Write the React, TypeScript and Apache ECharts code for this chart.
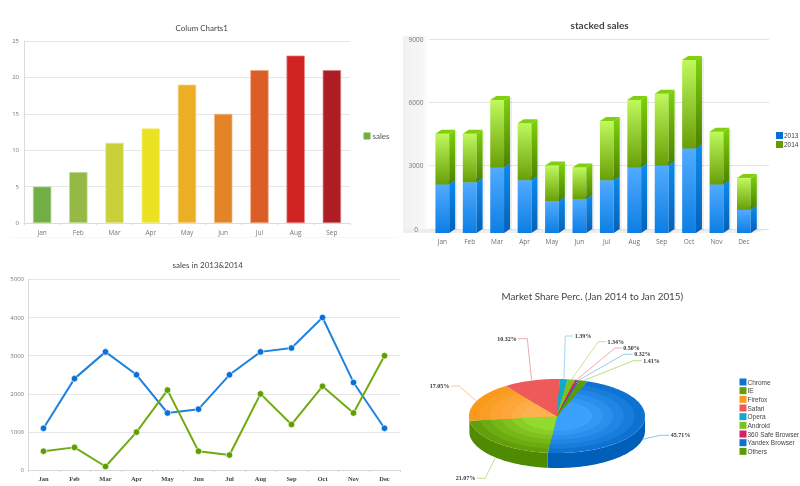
import React, { useEffect, useRef } from "react";
import * as echarts from "echarts";

const months = ["Jan", "Feb", "Mar", "Apr", "May", "Jun", "Jul", "Aug", "Sep", "Oct", "Nov", "Dec"];

// Chart 1
const salesMonths = months.slice(0, 9);
const salesValues = [5, 7, 11, 13, 19, 15, 21, 23, 21];
const salesColors = ["#71ae45", "#95b945", "#c8d139", "#ebe224", "#ecae24", "#e38427", "#dc5e27", "#d02422", "#ae1d23"];

// Chart 2
const stacked2013 = [2300, 2400, 3100, 2500, 1500, 1600, 2500, 3100, 3200, 4000, 2300, 1100];
const stacked2014 = [2400, 2300, 3200, 2700, 1700, 1500, 2800, 3200, 3400, 4200, 2500, 1500];

// Chart 3
const line2013 = [1100, 2400, 3100, 2500, 1500, 1600, 2500, 3100, 3200, 4000, 2300, 1100];
const line2014 = [500, 600, 100, 1000, 2100, 500, 400, 2000, 1200, 2200, 1500, 3000];

// Chart 4
const browsers = ["Chrome", "IE", "Firefox", "Safari", "Opera", "Android", "360 Safe Browser", "Yandex Browser", "Others"];
const shares = [45.71, 21.07, 17.05, 10.32, 1.39, 1.34, 0.5, 0.32, 1.41];
const sliceEdge = ["#0e72d2", "#639f0a", "#fa9a1c", "#ee5a5a", "#14a9c9", "#7cc11e", "#d91f66", "#0f6fcf", "#5e9a06"];
const sliceCore = ["#3aa2fc", "#92da2e", "#ffb050", "#ee5a5a", "#14a9c9", "#7cc11e", "#d91f66", "#0f6fcf", "#5e9a06"];
const sliceSide = ["#005fb8", "#4f8a00", "#e08a15", "#c94848", "#0e89a3", "#63a010", "#b01650", "#0b5aa8", "#4a7f02"];
const leaderColors = ["#8ec4ee", "#bfe08f", "#fbc98a", "#f2a9a9", "#a5d4f5", "#c6e59a", "#f2aaaa", "#9cc9ef", "#b9de85"];
// Leader layout, relative to the pie centre: elbow dx, elbow dy, run after the elbow.
const leaderLayout = [
  [103, 19.3, 9.3], [-72, 62.3, -8.3], [-97.7, -30, -8.6], [-29.7, -77.3, -9],
  [8.3, -80, 8], [41.3, -74.3, 7.7], [58, -68, 6.7], [67, -61.7, 8.7], [76.3, -55.3, 8.4],
];

const PIE = { cx: 557, cy: 416, rx: 88, ry: 37, depth: 15, start: 20 };
const BAR = { width: 13.8, dx: 6, dy: 4 };
const shareTotal = shares.reduce((a, b) => a + b, 0);

const pt = (deg: number, k = 1, drop = 0) => {
  const r = (deg * Math.PI) / 180;
  return [PIE.cx + PIE.rx * k * Math.sin(r), PIE.cy - PIE.ry * k * Math.cos(r) + drop];
};
const arc = (a0: number, a1: number, k = 1, drop = 0) => {
  const n = Math.max(2, Math.ceil(Math.abs(a1 - a0) / 2));
  const out: number[][] = [];
  for (let i = 0; i <= n; i++) out.push(pt(a0 + ((a1 - a0) * i) / n, k, drop));
  return out;
};
const mix = (a: string, b: string, t: number) => {
  const p = (c: string, i: number) => parseInt(c.slice(i, i + 2), 16);
  const ch = (i: number) => Math.round(p(a, i) + (p(b, i) - p(a, i)) * t).toString(16).padStart(2, "0");
  return "#" + ch(1) + ch(3) + ch(5);
};
const grad = (c0: string, c1: string) =>
  new echarts.graphic.LinearGradient(0, 0, 0, 1, [
    { offset: 0, color: c0 },
    { offset: 1, color: c1 },
  ]);

const bar3d = (front: [string, string], side: [string, string], top: string) => (params: any, api: any) => {
  const lo = api.coord([api.value(0), api.value(1)]);
  const hi = api.coord([api.value(0), api.value(2)]);
  const x0 = lo[0] - BAR.width / 2;
  const x1 = x0 + BAR.width;
  const yb = lo[1] + BAR.dy;
  const yt = hi[1] + BAR.dy;
  const { dx, dy } = BAR;
  return {
    type: "group",
    children: [
      {
        type: "polygon",
        shape: { points: [[x1 + dx, yt - dy + 1], [x1 + dx + 2, yt - dy + 2], [x1 + dx + 2, yb - dy + 1], [x1 + dx, yb - dy + 2]] },
        style: { fill: "rgba(0,0,0,0.07)" },
      },
      { type: "rect", shape: { x: x0, y: yt, width: BAR.width, height: yb - yt }, style: { fill: grad(front[0], front[1]) } },
      {
        type: "polygon",
        shape: { points: [[x1, yt], [x1 + dx, yt - dy], [x1 + dx, yb - dy], [x1, yb]] },
        style: { fill: grad(side[0], side[1]) },
      },
      {
        type: "polygon",
        shape: { points: [[x0, yt], [x0 + dx, yt - dy], [x1 + dx, yt - dy], [x1, yt]] },
        style: { fill: top },
      },
    ],
  };
};

let cumulative = PIE.start;
const sliceAngles = shares.map((s) => {
  const a0 = cumulative;
  cumulative += (s / shareTotal) * 360;
  return [a0, cumulative];
});

const pieSlice = (i: number) => () => {
  const [a0, a1] = sliceAngles[i];
  const children: any[] = [];
  const s0 = Math.max(a0, 90);
  const s1 = Math.min(a1, 270);
  if (s1 > s0) {
    children.push({
      type: "polygon",
      shape: { points: [...arc(s0, s1), ...arc(s1, s0, 1, PIE.depth)] },
      style: { fill: sliceSide[i] },
    });
  }
  const bands = [1, 0.88, 0.76, 0.64, 0.52, 0.4];
  bands.forEach((k, b) => {
    children.push({
      type: "polygon",
      shape: { points: [[PIE.cx, PIE.cy], ...arc(a0, a1, k)] },
      style: { fill: mix(sliceEdge[i], sliceCore[i], b / (bands.length - 1)) },
    });
  });
  const mid = (a0 + a1) / 2;
  const low = Math.cos((mid * Math.PI) / 180) < 0;
  const from = pt(mid, 1, low ? PIE.depth : 0);
  const [ex, ey, run] = leaderLayout[i];
  const elbow = [PIE.cx + ex, PIE.cy + ey];
  const end = [elbow[0] + run, elbow[1]];
  children.push({
    type: "polyline",
    shape: { points: [from, elbow, end] },
    style: { stroke: leaderColors[i], lineWidth: 1, fill: "none" },
  });
  children.push({
    type: "text",
    style: {
      text: shares[i].toFixed(2) + "%",
      x: end[0] + (run > 0 ? 1.5 : -1.5),
      y: end[1],
      align: run > 0 ? "left" : "right",
      verticalAlign: "middle",
      fill: "#333",
      fontSize: 6,
      fontWeight: "bold",
      fontFamily: "Liberation Serif",
    },
  });
  return { type: "group", children };
};

const labelFont = { fontSize: 6.5, fontFamily: "Open Sans", color: "#777" };
const yLabelFont = { fontSize: 6, fontFamily: "Open Sans", color: "#777" };
const plain = (v: number) => String(v);
const titleOf = (text: string, left: number, top: number, fontSize: number, fontWeight = "normal") => ({
  text,
  left,
  top,
  padding: 0,
  textStyle: { fontSize, fontWeight, fontFamily: "Lato", color: "#444" },
});

function buildOption() {
  const line = (c: string) => ({ lineStyle: { color: c, width: 1 } });
  return {
    animation: false,
    backgroundColor: "#fff",
    title: [
      titleOf("Colum Charts1", 175.5, 24, 8),
      titleOf("stacked sales", 570.5, 19.5, 10, "bold"),
      titleOf("sales in 2013&2014", 172.5, 261, 8),
      titleOf("Market Share Perc. (Jan 2014 to Jan 2015)", 501.5, 290.5, 9.8),
    ],
    graphic: [
      {
        type: "rect",
        shape: { x: 403, y: 36, width: 26, height: 193 },
        style: {
          fill: new echarts.graphic.LinearGradient(0, 0, 1, 0, [
            { offset: 0, color: "#f1f1f1" },
            { offset: 0.75, color: "#f6f6f6" },
            { offset: 1, color: "#ffffff" },
          ]),
        },
      },
      { type: "polygon", shape: { points: [[403, 229], [769, 229], [755, 233], [403, 233]] }, style: { fill: "#eeeeee" } },
      { type: "line", shape: { x1: 11, y1: 237.5, x2: 397, y2: 237.5 }, style: { stroke: "#f6f6f6", lineWidth: 1 } },
    ],
    legend: [
      {
        left: 363.5, top: 132, padding: 0, icon: "rect", itemWidth: 7, itemHeight: 7, itemGap: 2,
        data: ["sales"], textStyle: { fontSize: 8, fontFamily: "Lato", color: "#555", padding: [0, 0, 0, -3] },
      },
      {
        left: 776, top: 132, padding: 0, icon: "rect", orient: "vertical", itemWidth: 7, itemHeight: 7, itemGap: 2,
        data: ["2013", "2014"], textStyle: { fontSize: 6.5, fontFamily: "Liberation Sans", color: "#444", padding: [0, 0, 0, -4] },
      },
      {
        left: 739.5, top: 378.5, padding: 0, icon: "rect", orient: "vertical", itemWidth: 7, itemHeight: 7, itemGap: 1.67,
        data: browsers, textStyle: { fontSize: 6.5, fontFamily: "Liberation Sans", color: "#444", padding: [0, 0, 0, -4] },
      },
    ],
    grid: [
      { left: 24, top: 41, width: 326, height: 182 },
      { left: 429, top: 39, width: 340, height: 190 },
      { left: 428.6, top: 39, width: 329, height: 190 },
      { left: 28, top: 279.3, width: 372, height: 191 },
    ],
    xAxis: [
      {
        type: "category", gridIndex: 0, data: salesMonths,
        axisLine: line("#dcdcdc"), axisTick: { show: true, length: 2, alignWithLabel: false, ...line("#dcdcdc") },
        axisLabel: { ...labelFont, margin: 6 },
      },
      { type: "value", gridIndex: 1, show: false, min: 0, max: 1 },
      {
        type: "category", gridIndex: 2, data: months,
        axisLine: { show: false }, axisTick: { show: false },
        axisLabel: { ...labelFont, color: "#6f6f6f", margin: 9 },
      },
      {
        type: "category", gridIndex: 3, data: months,
        axisLine: line("#d8d8d8"), axisTick: { show: true, length: 2, ...line("#d8d8d8") },
        axisLabel: { fontSize: 6.5, fontFamily: "Liberation Serif", fontWeight: "bold", color: "#444", margin: 5 },
      },
    ],
    yAxis: [
      {
        type: "value", gridIndex: 0, min: 0, max: 25, interval: 5,
        axisLine: { show: true, ...line("#dcdcdc") }, axisTick: { show: false },
        splitLine: line("#e6e6e6"), axisLabel: { ...yLabelFont, margin: 5, formatter: plain },
      },
      {
        type: "value", gridIndex: 1, min: 0, max: 9000, interval: 3000,
        axisLine: { show: false }, axisTick: { show: false },
        splitLine: line("#e4e4e4"), axisLabel: { ...labelFont, margin: 13, align: "center", formatter: plain },
      },
      { type: "value", gridIndex: 2, min: 0, max: 9000, show: false, splitLine: { show: false } },
      {
        type: "value", gridIndex: 3, min: 0, max: 5000, interval: 1000,
        axisLine: { show: true, ...line("#d8d8d8") }, axisTick: { show: false },
        splitLine: line("#e6e6e6"), axisLabel: { ...yLabelFont, margin: 4, formatter: plain },
      },
    ],
    series: [
      {
        name: "sales", type: "bar", xAxisIndex: 0, yAxisIndex: 0, barWidth: 18.3,
        itemStyle: { color: salesColors[0] },
        data: salesValues.map((value, i) => ({ value, itemStyle: { color: salesColors[i], borderColor: mix(salesColors[i], "#ffffff", 0.45), borderWidth: 0.7 } })),
      },
      {
        name: "2013", type: "custom", xAxisIndex: 2, yAxisIndex: 2, clip: false, itemStyle: { color: "#0a6fd0" },
        renderItem: bar3d(["#52abff", "#0c7ee4"], ["#0c8bf0", "#0560b4"], "#1a86e8"),
        encode: { x: 0, y: 2 },
        data: stacked2013.map((v, i) => [i, 0, v]),
      },
      {
        name: "2014", type: "custom", xAxisIndex: 2, yAxisIndex: 2, clip: false, itemStyle: { color: "#659c04" },
        renderItem: bar3d(["#bff95e", "#689f06"], ["#7fd20a", "#4c8002"], "#82cf10"),
        encode: { x: 0, y: 2 },
        data: stacked2014.map((v, i) => [i, stacked2013[i], stacked2013[i] + v]),
      },
      {
        name: "sales 2013", type: "line", xAxisIndex: 3, yAxisIndex: 3, data: line2013,
        symbol: "circle", symbolSize: 6.5, lineStyle: { color: "#1f83dd", width: 2 },
        itemStyle: { color: "#0a70d8", borderColor: "#eaf4fd", borderWidth: 0.7 },
      },
      {
        name: "sales 2014", type: "line", xAxisIndex: 3, yAxisIndex: 3, data: line2014,
        symbol: "circle", symbolSize: 6.5, lineStyle: { color: "#72aa14", width: 2 },
        itemStyle: { color: "#5f9f00", borderColor: "#f2f8e8", borderWidth: 0.7 },
      },
      ...browsers.map((name, i) => ({
        name, type: "custom", coordinateSystem: "none", silent: true,
        itemStyle: { color: sliceEdge[i] },
        renderItem: pieSlice(i),
        data: [shares[i]],
      })),
    ],
  };
}

export default function App() {
  const ref = useRef<HTMLDivElement>(null);
  useEffect(() => {
    document.body.style.margin = "0";
    const chart = echarts.init(ref.current!, undefined, { renderer: "svg" });
    chart.setOption(buildOption() as any);
    return () => chart.dispose();
  }, []);
  return <div ref={ref} style={{ position: "absolute", left: 0, top: 0, width: 800, height: 486, filter: "blur(0.4px)" }} />;
}
